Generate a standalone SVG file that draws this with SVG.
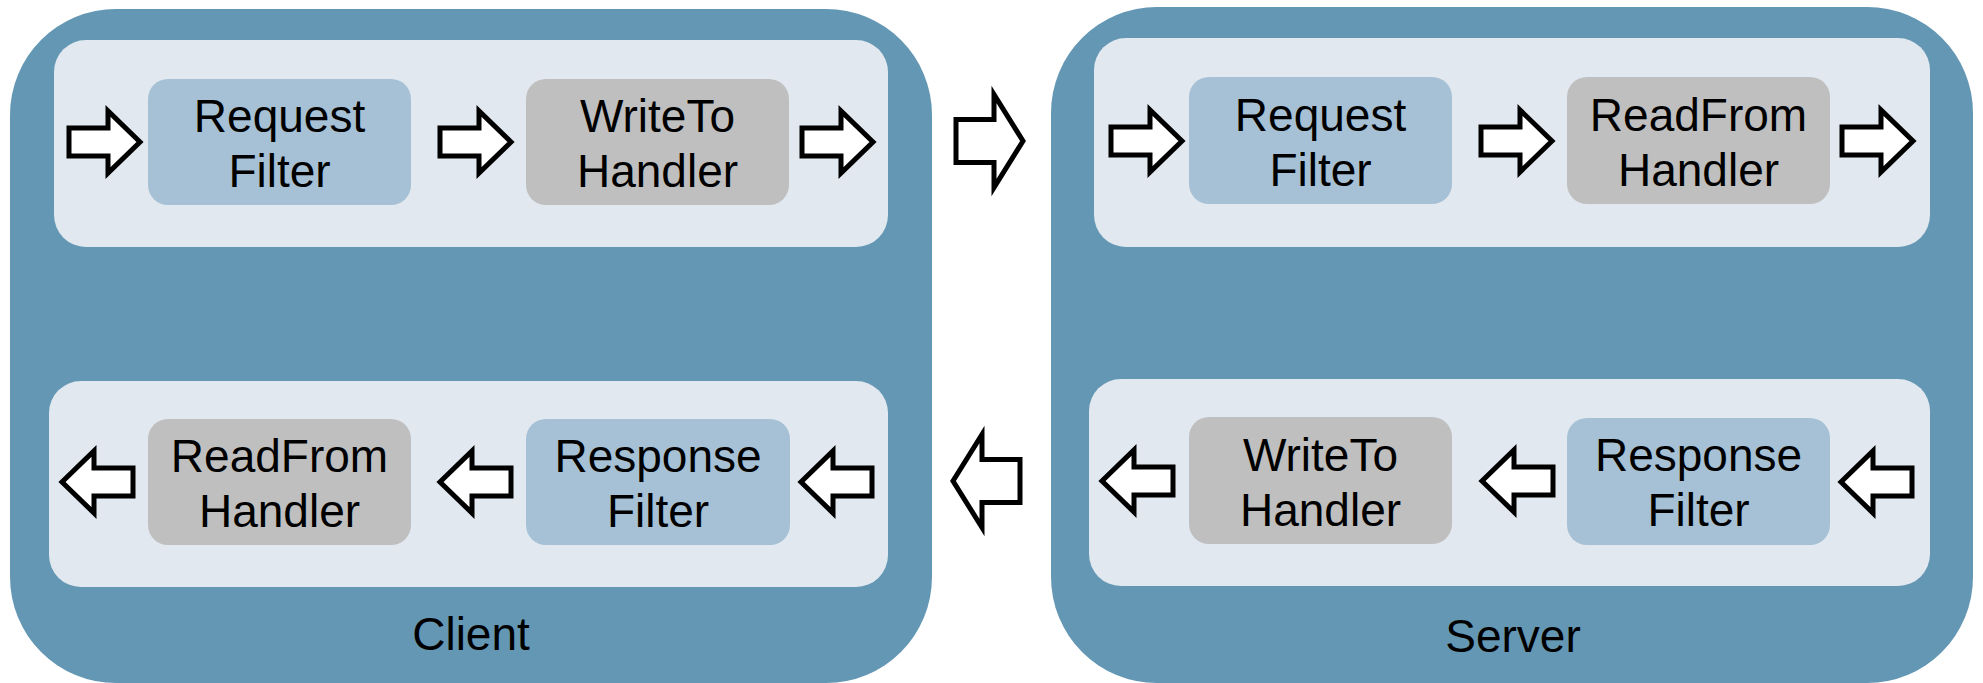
<svg xmlns="http://www.w3.org/2000/svg" xmlns:xlink="http://www.w3.org/1999/xlink" width="1983" height="683" viewBox="0 0 1983 683">
<style>
.outer{fill:#6497b4}
.panel{fill:#e1e8ef}
.filter{fill:#a6c1d5}
.handler{fill:#bfbfbf}
.arrow{fill:#ffffff;stroke:#000000;stroke-width:5;stroke-miterlimit:10}
text{font-family:"Liberation Sans",Arial,Helvetica,sans-serif;font-size:46px;fill:#000000;text-anchor:middle}
</style>
<defs>
<path id="ar" class="arrow" d="M-35,-14 H4 V-31 L36,0 L4,31 V14 H-35 Z"/>
<path id="al" class="arrow" d="M35,-14 H-4 V-31 L-36,0 L-4,31 V14 H35 Z"/>
<path id="bar" class="arrow" d="M-34,-21.5 H4 V-46.5 L33,0 L4,46.5 V21.5 H-34 Z"/>
<path id="bal" class="arrow" d="M34,-21.5 H-4 V-46.5 L-33,0 L-4,46.5 V21.5 H34 Z"/>
</defs>

<g id="client">
<rect class="outer" x="10" y="9" width="922" height="674" rx="106"/>
<text x="471" y="650">Client</text>
</g>
<g id="server">
<rect class="outer" x="1051" y="7" width="922" height="676" rx="106"/>
<text x="1513" y="652">Server</text>
</g>

<g id="client-request-chain">
<rect class="panel" x="54" y="40" width="834" height="207" rx="32"/>
</g>
<g id="client-response-chain">
<rect class="panel" x="49" y="381" width="839" height="206" rx="32"/>
</g>
<g id="server-request-chain">
<rect class="panel" x="1094" y="38" width="836" height="209" rx="32"/>
</g>
<g id="server-response-chain">
<rect class="panel" x="1089" y="379" width="841" height="207" rx="32"/>
</g>

<g id="client-request-filter">
<rect class="filter" x="148" y="79" width="263" height="126" rx="20"/>
<text x="279.5" y="132">Request</text>
<text x="279.5" y="187">Filter</text>
</g>
<g id="client-writeto-handler">
<rect class="handler" x="526" y="79" width="263" height="126" rx="20"/>
<text x="657.5" y="132">WriteTo</text>
<text x="657.5" y="187">Handler</text>
</g>
<g id="client-readfrom-handler">
<rect class="handler" x="148" y="419" width="263" height="126" rx="20"/>
<text x="279.5" y="472">ReadFrom</text>
<text x="279.5" y="527">Handler</text>
</g>
<g id="client-response-filter">
<rect class="filter" x="526" y="419" width="264" height="126" rx="20"/>
<text x="658" y="472">Response</text>
<text x="658" y="527">Filter</text>
</g>

<g id="server-request-filter">
<rect class="filter" x="1189" y="77" width="263" height="127" rx="20"/>
<text x="1320.5" y="131">Request</text>
<text x="1320.5" y="186">Filter</text>
</g>
<g id="server-readfrom-handler">
<rect class="handler" x="1567" y="77" width="263" height="127" rx="20"/>
<text x="1698.5" y="131">ReadFrom</text>
<text x="1698.5" y="186">Handler</text>
</g>
<g id="server-writeto-handler">
<rect class="handler" x="1189" y="417" width="263" height="127" rx="20"/>
<text x="1320.5" y="471">WriteTo</text>
<text x="1320.5" y="526">Handler</text>
</g>
<g id="server-response-filter">
<rect class="filter" x="1567" y="418" width="263" height="127" rx="20"/>
<text x="1698.5" y="471">Response</text>
<text x="1698.5" y="526">Filter</text>
</g>

<g id="connectors">
<use xlink:href="#ar" href="#ar" transform="translate(104,142)"/>
<use xlink:href="#ar" href="#ar" transform="translate(475,142)"/>
<use xlink:href="#ar" href="#ar" transform="translate(837,142)"/>
<use xlink:href="#bar" href="#bar" transform="translate(990,141)"/>
<use xlink:href="#ar" href="#ar" transform="translate(1146,141)"/>
<use xlink:href="#ar" href="#ar" transform="translate(1516,141)"/>
<use xlink:href="#ar" href="#ar" transform="translate(1877,141)"/>
<use xlink:href="#al" href="#al" transform="translate(98,482)"/>
<use xlink:href="#al" href="#al" transform="translate(476,482)"/>
<use xlink:href="#al" href="#al" transform="translate(837,482)"/>
<use xlink:href="#bal" href="#bal" transform="translate(986,481)"/>
<use xlink:href="#al" href="#al" transform="translate(1138,481)"/>
<use xlink:href="#al" href="#al" transform="translate(1518,481)"/>
<use xlink:href="#al" href="#al" transform="translate(1877,482)"/>
</g>
</svg>
